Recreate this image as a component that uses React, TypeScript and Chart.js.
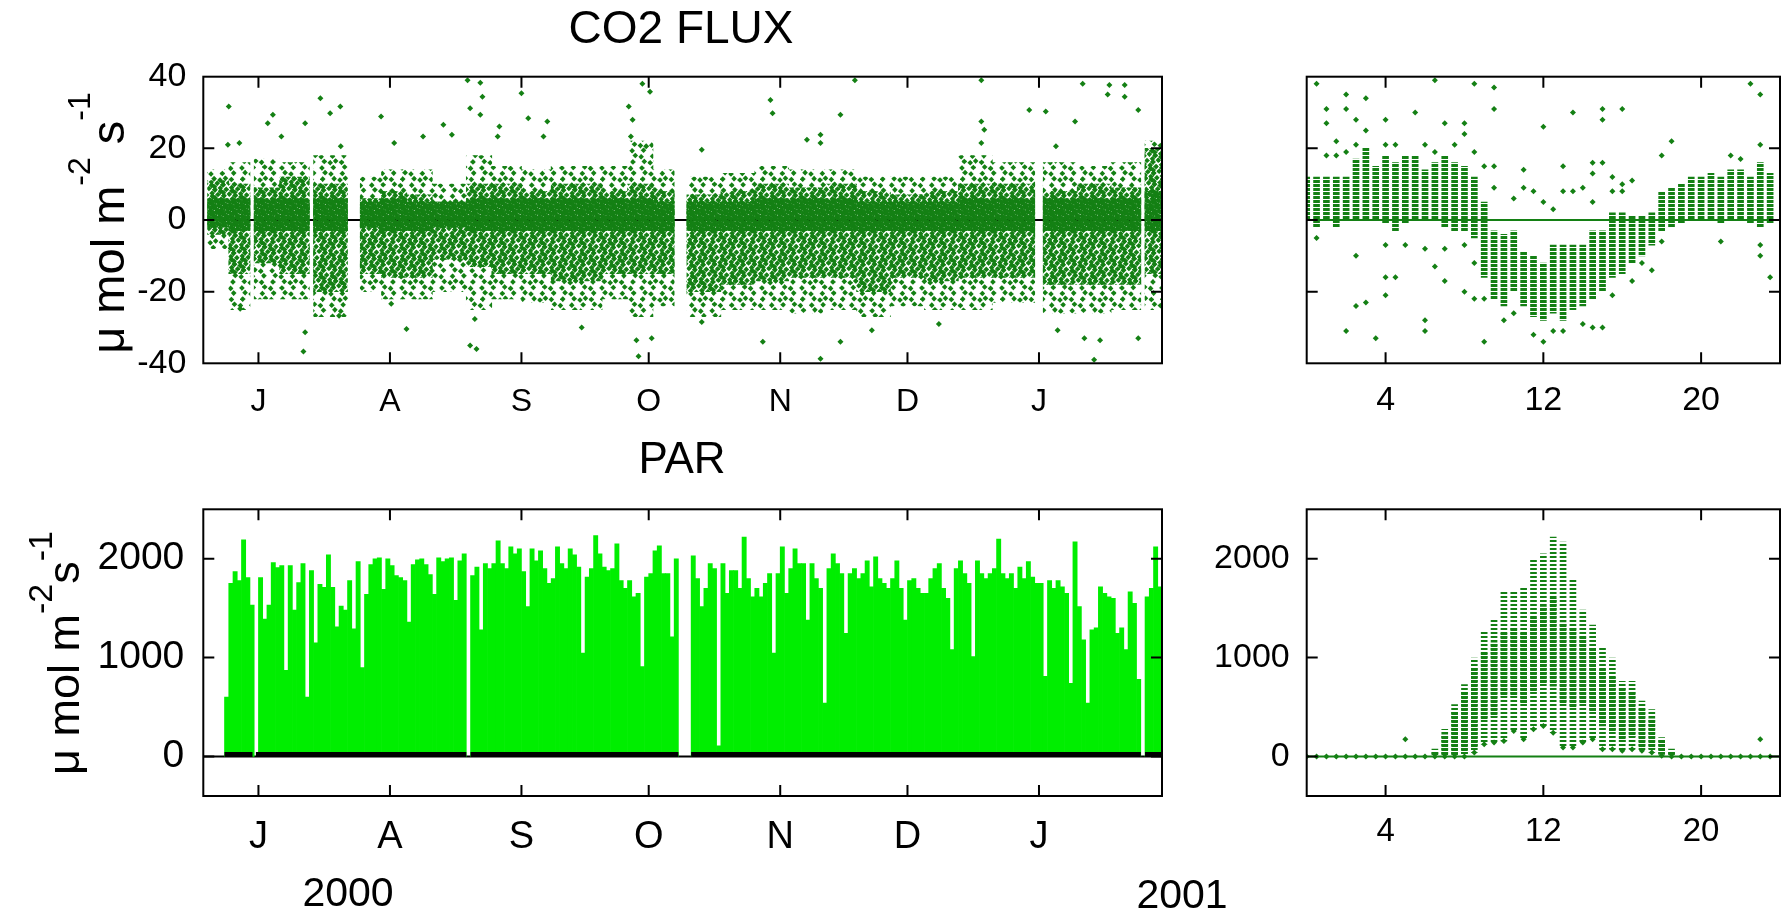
import React, { useEffect, useRef } from 'react';
import { Chart, registerables } from 'chart.js';

Chart.register(...registerables);

const FONT = "'Liberation Sans', Arial, Helvetica, sans-serif";
const FLUX_GREEN = 'rgb(20,128,20)';
const PAR_GREEN = 'rgb(0,238,0)';

/* ---------- axes (day of year; 2000 is a leap year, so 1 Jan 2001 = day 367) ---------- */
const DAY_MIN = 170;
const DAY_MAX = 396;
const MONTH_TICKS = [183, 214, 245, 275, 306, 336, 367];
const MONTH_LABELS = ['J', 'A', 'S', 'O', 'N', 'D', 'J'];
const HOUR_TICKS = [4, 12, 20];
const FLUX_TICKS = [-40, -20, 0, 20, 40];
const PAR_TICKS = [0, 1000, 2000];

/* ---------- CO2 flux record, summarised as envelopes per block of days ---------- */
const FLUX_FIRST_DAY = 171;
const FLUX_LAST_DAY = 395;
const FLUX_MISSING_DAYS = [181, 195, 204, 205, 206, 281, 282, 283, 366, 367, 391];
const FLUX_BLOCK_START = [171, 176, 182, 188, 196, 207, 212, 218, 224, 232, 238, 245, 252, 264, 270, 276, 284, 292, 300, 308, 316, 324, 332, 340, 348, 356, 368, 376, 384, 392];
const FLUX_SPARSE_LOW = [-8, -25, -22, -22, -27, -20, -22, -22, -20, -25, -22, -23, -25, -22, -27, -24, -27, -25, -25, -26, -25, -27, -24, -25, -25, -23, -26, -26, -25, -25];
const FLUX_DENSE_LOW = [-4, -15, -12, -15, -20, -15, -16, -16, -11, -13, -15, -15, -17, -15, -15, -15, -20, -18, -17, -16, -16, -20, -16, -17, -16, -16, -18, -18, -18, -15];
const FLUX_CORE_LOW = [-2, -3, -3, -3, -3, -2, -3, -3, -2, -3, -3, -3, -3, -3, -3, -3, -3, -3, -3, -3, -3, -3, -3, -3, -3, -3, -3, -3, -3, -3];
const FLUX_CORE_HIGH = [6, 6, 6, 6, 6, 5, 6, 5, 5, 6, 6, 6, 6, 6, 6, 5, 5, 5, 6, 6, 6, 5, 5, 5, 6, 6, 6, 6, 6, 8];
const FLUX_DENSE_HIGH = [11, 10, 9, 12, 10, 6, 8, 7, 5, 10, 10, 8, 10, 8, 10, 8, 7, 8, 10, 9, 10, 8, 7, 8, 10, 10, 8, 10, 9, 20];
const FLUX_SPARSE_HIGH = [14, 16, 17, 16, 18, 12, 14, 14, 10, 18, 15, 14, 15, 15, 22, 14, 12, 13, 15, 14, 14, 12, 12, 12, 18, 16, 16, 15, 16, 22];
const FLUX_OUTLIERS = [
  [176.0, 31.7], [175.8, 21], [178.5, 21.5], [178.7, -24.8], [186.4, 29.4], [185.2, 27], [188.4, 23.3],
  [194.0, -31.3], [193.6, -36.7], [194.0, 27], [197.6, 34], [199.9, 29.8], [202.3, 31.7], [202.4, 20.6],
  [202.0, -26.7], [211.9, 28.9], [215.0, 21.5], [221.8, 23.3], [226.6, 26.6], [228.6, 23.8], [217.9, -30.4],
  [214.3, -23.4], [232.3, 39], [235.3, 38.3], [235.8, 34.4], [232.9, 31.2], [235.3, 29.4], [232.9, -35],
  [234.4, -36], [234.0, -27.6], [245.0, 35.4], [246.6, 28.4], [251.1, 27.5], [250.2, 23.3], [239.4, 23.3],
  [239.8, 26.1], [259.2, -30], [270.3, 31.7], [271.2, 28], [273.5, 38], [275.3, 35.8], [272.6, -38],
  [272.1, -33.6], [275.7, -33], [270.8, 23.3], [274.4, 20.6], [287.5, 19.6], [287.5, -28.5], [303.7, 33.5],
  [304.2, 29.8], [320.2, 29.4], [312.3, 22.4], [315.5, 21.5], [315.5, 23.8], [323.6, 39], [353.4, 39],
  [353.4, 27.5], [354.1, 25.2], [353.4, 21.5], [315.5, -38.7], [320.2, -34], [301.9, -34], [343.4, -29],
  [327.6, -30.8], [364.7, 30.7], [368.6, 30.3], [377.3, 38], [375.5, 27.5], [383.6, 37.7], [387.2, 37.7],
  [387.2, 34.4], [383.2, 35], [390.4, 30.7], [380.0, -39], [371.4, -30.8], [377.7, -33], [381.4, -33.6],
  [390.4, -33], [371.0, 20.6],
];

/* ---------- PAR daily maxima (umol m-2 s-1), one array per month ---------- */
const PAR_FIRST_DAY = 175;
const PAR_JUN = [600, 1750, 1870, 1780, 2190, 1810, 1530, null];
const PAR_JUL = [1810, 1390, 1530, 1960, 1910, 1930, 870, 1930, 1480, 1760, 1950, 600, 1880, 1150, 1740, 1710, 2040, 1710, 1310, 1520, 1480, 1780, 1290, 1970, 900, 1640, 1940, 2000, 2010, 1690, 2000];
const PAR_AUG = [1930, 1830, 1810, 1780, 1360, 1940, 1990, 2000, 1940, 1840, 1640, 2010, 1970, 2000, 2010, 1580, 1980, 2050, null, 1830, 1915, 1280, 1950, 1900, 1950, 2180, 1950, 1900, 2120, 2050, 2100];
const PAR_SEP = [1870, 1515, 2100, 1980, 2080, 1900, 1750, 1800, 2120, 1950, 1900, 2100, 2040, 1915, 1045, 1815, 1900, 2235, 2050, 1915, 1880, 1900, 2150, 1780, 1700, 1780, 1615, 1650, 910, 1815];
const PAR_OCT = [1850, 2080, 2130, 1850, 1850, 1210, 2000, null, null, null, 2030, 1800, 1515, 1700, 1950, 1900, 107, 1950, 1650, 1880, 1880, 1700, 2220, 1800, 1615, 1700, 1615, 1750, 1850, 1045, 1850];
const PAR_NOV = [2120, 1650, 1900, 2100, 1950, 1950, 1380, 1950, 1800, 1700, 540, 1900, 2050, 1950, 1850, 1245, 1850, 1900, 1800, 1850, 1980, 1715, 2020, 1800, 1750, 1700, 1800, 1980, 1700, 1380];
const PAR_DEC = [1780, 1800, 1700, 1650, 1650, 1800, 1900, 1950, 1700, 1600, 1080, 1900, 1980, 1850, 1750, 1010, 1980, 1850, 1800, 1850, 1900, 2200, 1850, 1800, 1850, 1700, 1915, 1800, 1970, 1815, 1750];
const PAR_JAN = [1750, 810, 1780, 1700, 1780, 1715, 1650, 740, 2170, 1515, 1180, 540, 1280, 1300, 1715, 1650, 1615, 1600, 1245, 1300, 1080, 1665, 1550, 780, null, 1615, 1700, 2120, 1715];
// night-time readings stay close to zero
const PAR_NIGHT_SPANS = [[175, 181.6], [182.4, 232], [233, 282], [285, 391], [392, 396]];
const PAR_NIGHT_LEVEL = 20;

/* ---------- mean diurnal course, half-hourly ---------- */
const HALF_HOURS = [0, 0.5, 1, 1.5, 2, 2.5, 3, 3.5, 4, 4.5, 5, 5.5, 6, 6.5, 7, 7.5, 8, 8.5, 9, 9.5, 10, 10.5, 11, 11.5, 12, 12.5, 13, 13.5, 14, 14.5, 15, 15.5, 16, 16.5, 17, 17.5, 18, 18.5, 19, 19.5, 20, 20.5, 21, 21.5, 22, 22.5, 23, 23.5];
const FLUX_HH_LOW = [0, -2, 0, -2, 0, 0, 0, 0, -1, -3, -1, 0, 0, 0, -2, -3, -3, -5, -16, -22, -24, -20, -24, -27, -28, -26, -28, -25, -24, -22, -20, -16, -15, -12, -10, -7, -3, -2, -1, 0, 0, 0, -1, 0, 0, -1, -2, -1];
const FLUX_HH_HIGH = [12, 12, 12, 12, 12, 17, 20, 15, 18, 16, 18, 18, 14, 16, 18, 16, 15, 12, 5, -3, -4, -3, -9, -10, -12, -7, -7, -7, -7, -3, -3, 2, 2, 1, 1, 2, 8, 9, 10, 12, 12, 13, 12, 14, 14, 12, 16, 13];
const FLUX_HH_OUTLIERS = [
  [0.5, 38], [0.5, -5], [1, 31], [1, 27], [1, 18], [1.5, 22], [1.5, 18], [2, 35], [2, 31], [2, 19], [2, -31],
  [2.5, 28], [2.5, 21], [2.5, -10], [2.5, -24], [3, 34], [3, 25], [3, -23], [3.5, -33], [4, 28], [4, 21],
  [4, -7], [4, -16], [4, -21], [4.5, 21], [4.5, -16], [5, -7], [5.5, 30], [6, 21], [6, -8], [6, -28],
  [6, -31], [6.5, 39], [6.5, 19], [6.5, -13], [7, 27], [7, -8], [7, -17], [7.5, 21], [8, 27], [8, 24],
  [8, -7], [8, -20], [8.5, 38], [8.5, 19], [8.5, -12], [8.5, -22], [9, 15], [9, -22], [9, -34], [9.5, 37],
  [9.5, 31], [9.5, 15], [9.5, 9], [10, -28], [10.5, 6], [10.5, -26], [11, 14], [11, 9], [11.5, 8],
  [11.5, -32], [12, 26], [12, 5], [12, -34], [12.5, 3], [12.5, -31], [13, 15], [13, 8], [13, -31],
  [13.5, 30], [13.5, 8], [14, 9], [14, -29], [14.5, 16], [14.5, 13], [14.5, 5], [14.5, -30], [15, 31],
  [15, 28], [15, 16], [15, -30], [15.5, 12], [15.5, 8], [15.5, -21], [16, 31], [16, 10], [16, 8],
  [16.5, 11], [16.5, -17], [17, -12], [17.5, -14], [18, 18], [18, -6], [18.5, 22], [21, -6], [21.5, 18],
  [22, 17], [22.5, 38], [23, 35], [23, 21], [23, -7], [23, -10], [23.5, -16],
];
const PAR_HH_LOW = [0, 0, 0, 0, 0, 0, 0, 0, 0, 0, 0, 0, 0, 0, 0, 0, 0, 40, 124, 140, 157, 258, 174, 275, 308, 241, 90, 90, 140, 174, 74, 74, 57, 74, 57, 40, 7, 0, 0, 0, 0, 0, 0, 0, 0, 0, 0, 0];
const PAR_HH_HIGH = [0, 0, 0, 0, 0, 0, 0, 0, 0, 0, 0, 0, 0, 74, 275, 525, 727, 995, 1263, 1380, 1665, 1680, 1700, 1983, 2050, 2218, 2168, 1800, 1480, 1330, 1112, 995, 760, 760, 560, 475, 190, 74, 0, 0, 0, 0, 0, 0, 0, 0, 0, 0];
const PAR_HH_CORE_LOW = [0, 0, 0, 0, 0, 0, 0, 0, 0, 0, 0, 0, 0, 0, 0, 0, 30, 100, 375, 400, 610, 600, 540, 650, 745, 710, 540, 500, 540, 450, 310, 250, 150, 200, 100, 80, 20, 0, 0, 0, 0, 0, 0, 0, 0, 0, 0, 0];
const PAR_HH_CORE_HIGH = [0, 0, 0, 0, 0, 0, 0, 0, 0, 0, 0, 0, 0, 40, 220, 450, 650, 900, 1045, 1150, 1245, 1300, 1245, 1400, 1515, 1600, 1350, 1300, 1210, 1100, 880, 800, 700, 650, 480, 380, 160, 40, 0, 0, 0, 0, 0, 0, 0, 0, 0, 0];
const PAR_HH_OUTLIERS = [[5, 174], [23, 174]];

/* ---------- textures: scattered half-hour markers and stacked markers ---------- */
function diamond(g: CanvasRenderingContext2D, x: number, y: number, r: number) {
  g.beginPath();
  g.moveTo(x, y - r);
  g.lineTo(x + r, y);
  g.lineTo(x, y + r);
  g.lineTo(x - r, y);
  g.closePath();
  g.fill();
}

function speckle(ctx: CanvasRenderingContext2D, count: number) {
  const size = 40;
  const tile = document.createElement('canvas');
  tile.width = size;
  tile.height = size;
  const g = tile.getContext('2d')!;
  g.fillStyle = FLUX_GREEN;
  for (let i = 0; i < count; i++) {
    const px = ((0.5 + 0.7548776662 * i) % 1) * size;
    const py = ((0.5 + 0.569840291 * i) % 1) * size;
    for (const dx of [-size, 0, size]) for (const dy of [-size, 0, size]) diamond(g, px + dx, py + dy, 2.8);
  }
  return ctx.createPattern(tile, 'repeat');
}

function stripes(ctx: CanvasRenderingContext2D, on: number, off: number) {
  const tile = document.createElement('canvas');
  tile.width = 4;
  tile.height = on + off;
  const g = tile.getContext('2d')!;
  g.fillStyle = FLUX_GREEN;
  g.fillRect(0, 0, 4, on);
  return ctx.createPattern(tile, 'repeat');
}

/* ---------- frame, inward ticks, zero line and text ---------- */
type Label = { text: string; x: number; y: number; size: number };
type YTitle = { x: number; y: number; size: number; supSize: number; raise: number; parts: [string, boolean][] };

function decor(zeroColor: string, labels: Label[], yTitle: YTitle | null) {
  return {
    id: 'decor',
    beforeDatasetsDraw(chart: any) {
      const { ctx, chartArea: a, scales } = chart;
      const y0 = scales.y.getPixelForValue(0);
      ctx.save();
      ctx.strokeStyle = zeroColor;
      ctx.lineWidth = 2;
      ctx.beginPath();
      ctx.moveTo(a.left, y0);
      ctx.lineTo(a.right, y0);
      ctx.stroke();
      ctx.restore();
    },
    afterDraw(chart: any) {
      const { ctx, chartArea: a, scales } = chart;
      const len = 11;
      ctx.save();
      ctx.strokeStyle = '#000';
      ctx.lineWidth = 2;
      ctx.strokeRect(a.left, a.top, a.right - a.left, a.bottom - a.top);
      ctx.beginPath();
      for (const t of scales.x.ticks) {
        const px = scales.x.getPixelForValue(t.value);
        ctx.moveTo(px, a.bottom);
        ctx.lineTo(px, a.bottom - len);
        ctx.moveTo(px, a.top);
        ctx.lineTo(px, a.top + len);
      }
      for (const t of scales.y.ticks) {
        if (t.value === scales.y.min || t.value === scales.y.max) continue;
        const py = scales.y.getPixelForValue(t.value);
        ctx.moveTo(a.left, py);
        ctx.lineTo(a.left + len, py);
        ctx.moveTo(a.right, py);
        ctx.lineTo(a.right - len, py);
      }
      ctx.stroke();

      ctx.fillStyle = '#000';
      ctx.textAlign = 'center';
      ctx.textBaseline = 'middle';
      for (const l of labels) {
        ctx.font = `${l.size}px ${FONT}`;
        ctx.fillText(l.text, l.x, l.y);
      }

      if (yTitle) {
        ctx.translate(yTitle.x, yTitle.y);
        ctx.rotate(-Math.PI / 2);
        ctx.textAlign = 'left';
        ctx.textBaseline = 'alphabetic';
        const widths = yTitle.parts.map(([s, sup]) => {
          ctx.font = `${sup ? yTitle.supSize : yTitle.size}px ${FONT}`;
          return ctx.measureText(s).width;
        });
        let cx = -widths.reduce((p, w) => p + w, 0) / 2;
        yTitle.parts.forEach(([s, sup], i) => {
          ctx.font = `${sup ? yTitle.supSize : yTitle.size}px ${FONT}`;
          ctx.fillText(s, cx, sup ? -yTitle.raise : 0);
          cx += widths[i];
        });
      }
      ctx.restore();
    },
  };
}

/* ---------- scale builders ---------- */
function tickAxis(min: number, max: number, values: number[], names: string[] | null, size: number, padding: number, height: number) {
  return {
    type: 'linear',
    min,
    max,
    offset: false,
    grid: { display: false, drawTicks: false },
    border: { display: false },
    afterBuildTicks: (s: any) => {
      s.ticks = values.map((v) => ({ value: v }));
    },
    afterFit: (s: any) => {
      s.height = height;
    },
    ticks: {
      autoSkip: false,
      maxRotation: 0,
      minRotation: 0,
      padding,
      color: '#000',
      font: { family: FONT, size },
      callback: (v: number, i: number) => (names ? names[i] : String(v)),
    },
  };
}

function valueAxis(min: number, max: number, values: number[], size: number, padding: number, width: number, show: boolean) {
  return {
    type: 'linear',
    min,
    max,
    grid: { display: false, drawTicks: false },
    border: { display: false },
    afterBuildTicks: (s: any) => {
      s.ticks = values.map((v) => ({ value: v }));
    },
    afterFit: (s: any) => {
      s.width = width;
    },
    ticks: { display: show, padding, color: '#000', font: { family: FONT, size }, callback: (v: number) => String(v) },
  };
}

function baseOptions(padRight: number, padTop: number, x: any, y: any) {
  return {
    responsive: false,
    animation: false,
    devicePixelRatio: 1,
    events: [],
    layout: { padding: { left: 0, right: padRight, top: padTop, bottom: 0 } },
    datasets: { bar: { grouped: false, barPercentage: 1, categoryPercentage: 1, borderWidth: 0 } },
    plugins: { legend: { display: false }, tooltip: { enabled: false }, title: { display: false } },
    scales: { x, y },
  };
}

const pointStyle = {
  type: 'scatter',
  pointStyle: 'rectRot',
  pointRadius: 3,
  pointBackgroundColor: FLUX_GREEN,
  backgroundColor: FLUX_GREEN,
  pointBorderWidth: 0,
  borderWidth: 0,
};

/* ---------- the four panels ---------- */
function fluxSeries(canvas: HTMLCanvasElement) {
  const ctx = canvas.getContext('2d')!;
  const days: number[] = [];
  for (let d = FLUX_FIRST_DAY; d <= FLUX_LAST_DAY; d++) if (!FLUX_MISSING_DAYS.includes(d)) days.push(d);
  const blockOf = (d: number) => {
    let k = 0;
    FLUX_BLOCK_START.forEach((s, i) => {
      if (s <= d) k = i;
    });
    return k;
  };
  const layer = (lo: number[], hi: number[]) => days.map((d) => ({ x: d + 0.5, y: [lo[blockOf(d)], hi[blockOf(d)]] }));
  return new Chart(canvas, {
    type: 'bar',
    data: {
      datasets: [
        { ...pointStyle, data: FLUX_OUTLIERS.map(([x, y]) => ({ x, y })), order: 1 },
        { data: layer(FLUX_CORE_LOW, FLUX_CORE_HIGH), backgroundColor: speckle(ctx, 150), order: 2 },
        { data: layer(FLUX_DENSE_LOW, FLUX_DENSE_HIGH), backgroundColor: speckle(ctx, 80), order: 3 },
        { data: layer(FLUX_SPARSE_LOW, FLUX_SPARSE_HIGH), backgroundColor: speckle(ctx, 30), order: 4 },
      ],
    } as any,
    options: baseOptions(
      78,
      76.7,
      tickAxis(DAY_MIN, DAY_MAX, MONTH_TICKS, MONTH_LABELS, 32, 19.5, 76.7),
      valueAxis(-40, 40, FLUX_TICKS, 34, 17, 203.3, true),
    ) as any,
    plugins: [
      decor('#000', [{ text: 'CO2 FLUX', x: 681, y: 30, size: 46 }], {
        x: 124,
        y: 223,
        size: 47,
        supSize: 32,
        raise: 34,
        parts: [['\u03bc mol m', false], ['-2', true], [' s', false], ['-1', true]],
      }),
    ],
  });
}

function fluxDiurnal(canvas: HTMLCanvasElement) {
  const ctx = canvas.getContext('2d')!;
  return new Chart(canvas, {
    type: 'bar',
    data: {
      datasets: [
        { ...pointStyle, data: FLUX_HH_OUTLIERS.map(([x, y]) => ({ x, y })), order: 1 },
        {
          data: HALF_HOURS.map((h, i) => ({ x: h, y: [FLUX_HH_LOW[i], FLUX_HH_HIGH[i]] })),
          backgroundColor: stripes(ctx, 3, 1),
          barThickness: 6,
          order: 2,
        },
      ],
    } as any,
    options: baseOptions(
      0.7,
      76.7,
      tickAxis(0, 24, HOUR_TICKS, null, 34, 17, 76.7),
      valueAxis(-40, 40, FLUX_TICKS, 33, 17, 136.7, false),
    ) as any,
    plugins: [decor(FLUX_GREEN, [], null)],
  });
}

function parSeries(canvas: HTMLCanvasElement) {
  const daily = [...PAR_JUN, ...PAR_JUL, ...PAR_AUG, ...PAR_SEP, ...PAR_OCT, ...PAR_NOV, ...PAR_DEC, ...PAR_JAN];
  const bars = daily
    .map((v, i) => (v == null ? null : { x: PAR_FIRST_DAY + i + 0.5, y: v }))
    .filter((p) => p !== null);
  const night = PAR_NIGHT_SPANS.flatMap(([a, b]) => [
    { x: a, y: PAR_NIGHT_LEVEL },
    { x: b, y: PAR_NIGHT_LEVEL },
    { x: b, y: null },
  ]);
  return new Chart(canvas, {
    type: 'bar',
    data: {
      datasets: [
        { type: 'line', data: night, borderColor: '#000', borderWidth: 5, pointRadius: 0, spanGaps: false, order: 1 },
        { data: bars, backgroundColor: PAR_GREEN, order: 2 },
      ],
    } as any,
    options: baseOptions(
      78,
      69.3,
      tickAxis(DAY_MIN, DAY_MAX, MONTH_TICKS, MONTH_LABELS, 38, 18.7, 121),
      valueAxis(-400, 2500, PAR_TICKS, 39, 19, 203.3, true),
    ) as any,
    plugins: [
      decor(
        '#000',
        [
          { text: 'PAR', x: 682, y: 21, size: 44 },
          { text: '2000', x: 348, y: 455, size: 41 },
          { text: '2001', x: 1182, y: 457, size: 41 },
        ],
        {
          x: 79,
          y: 213,
          size: 45,
          supSize: 34,
          raise: 27,
          parts: [['\u03bc mol m', false], ['-2', true], ['s', false], ['-1', true]],
        },
      ),
    ],
  });
}

function parDiurnal(canvas: HTMLCanvasElement) {
  const ctx = canvas.getContext('2d')!;
  return new Chart(canvas, {
    type: 'bar',
    data: {
      datasets: [
        { ...pointStyle, data: PAR_HH_OUTLIERS.map(([x, y]) => ({ x, y })), order: 1 },
        { ...pointStyle, data: HALF_HOURS.map((h, i) => ({ x: h, y: PAR_HH_LOW[i] })), order: 1 },
        {
          data: HALF_HOURS.map((h, i) => ({ x: h, y: [PAR_HH_CORE_LOW[i], PAR_HH_CORE_HIGH[i]] })),
          backgroundColor: stripes(ctx, 3, 1),
          barThickness: 6,
          order: 2,
        },
        {
          data: HALF_HOURS.map((h, i) => ({ x: h, y: [PAR_HH_LOW[i], PAR_HH_HIGH[i]] })),
          backgroundColor: stripes(ctx, 2, 2),
          barThickness: 6,
          order: 3,
        },
      ],
    } as any,
    options: baseOptions(
      0.7,
      69.3,
      tickAxis(0, 24, HOUR_TICKS, null, 33, 16.6, 121),
      valueAxis(-400, 2500, PAR_TICKS, 34, 17, 136.7, true),
    ) as any,
    plugins: [decor(FLUX_GREEN, [], null)],
  });
}

export default function App() {
  const tl = useRef<HTMLCanvasElement>(null);
  const tr = useRef<HTMLCanvasElement>(null);
  const bl = useRef<HTMLCanvasElement>(null);
  const br = useRef<HTMLCanvasElement>(null);

  useEffect(() => {
    const charts = [fluxSeries(tl.current!), fluxDiurnal(tr.current!), parSeries(bl.current!), parDiurnal(br.current!)];
    return () => charts.forEach((c) => c.destroy());
  }, []);

  const abs = (left: number, top: number) => ({ position: 'absolute' as const, left, top });
  return (
    <div style={{ position: 'absolute', left: 0, top: 0, width: 1784, height: 917, background: '#fff', overflow: 'hidden' }}>
      <canvas ref={tl} width={1240} height={440} style={abs(0, 0)} />
      <canvas ref={tr} width={614} height={440} style={abs(1170, 0)} />
      <canvas ref={bl} width={1240} height={477} style={abs(0, 440)} />
      <canvas ref={br} width={614} height={477} style={abs(1170, 440)} />
    </div>
  );
}
